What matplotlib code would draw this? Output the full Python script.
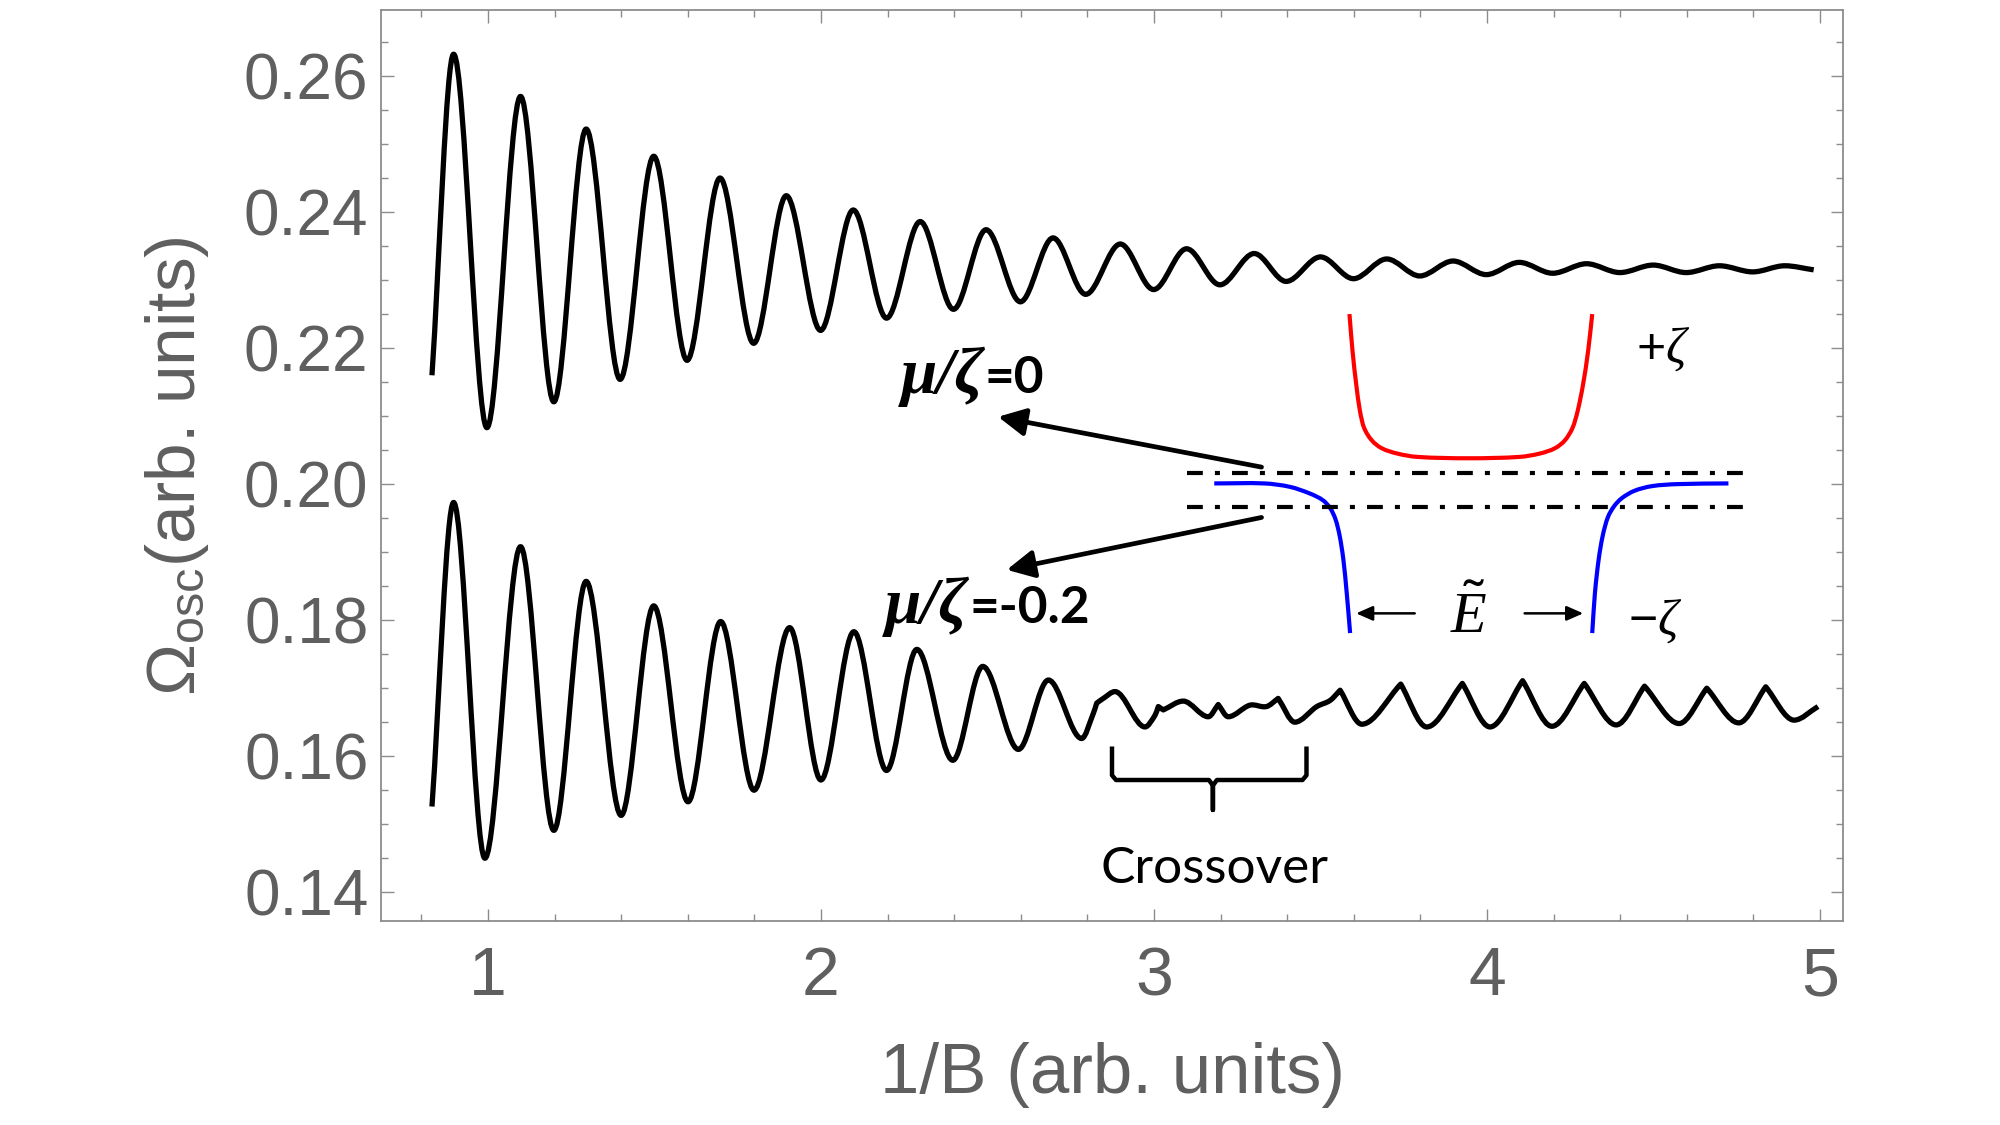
import matplotlib
matplotlib.use('Agg')
import matplotlib.pyplot as plt
from matplotlib.path import Path
from matplotlib.patches import PathPatch
from matplotlib.ticker import MultipleLocator, FormatStrFormatter

plt.rcParams['font.family'] = ['Liberation Sans', 'DejaVu Sans']
plt.rcParams['mathtext.fontset'] = 'custom'
plt.rcParams['mathtext.rm'] = 'Liberation Sans'
plt.rcParams['mathtext.it'] = 'Liberation Serif:italic'

# Data: extrema (x = 1/B, y = Omega_osc)
# kind: 's' smooth extremum, 'c' cusp/end, 'm' passing point
upper_x = [0.832, 0.897, 0.997, 1.098, 1.198, 1.295, 1.397, 1.498, 1.598, 1.697, 1.798,
           1.896, 1.999, 2.097, 2.197, 2.298, 2.398, 2.496, 2.599, 2.697, 2.795, 2.899,
           2.999, 3.098, 3.198, 3.301, 3.397, 3.500, 3.599, 3.699, 3.798, 3.898, 3.998,
           4.097, 4.197, 4.299, 4.399, 4.499, 4.598, 4.698, 4.798, 4.894, 4.981]
upper_y = [0.2160, 0.2632, 0.2083, 0.2570, 0.2121, 0.2522, 0.2154, 0.2482, 0.2182, 0.2450, 0.2207,
           0.2424, 0.2226, 0.2403, 0.2244, 0.2386, 0.2257, 0.2374, 0.2268, 0.2362, 0.2279, 0.2353,
           0.2286, 0.2346, 0.2293, 0.2339, 0.2298, 0.2334, 0.2302, 0.2331, 0.2306, 0.2328, 0.2308,
           0.2326, 0.2310, 0.2324, 0.2311, 0.2322, 0.2311, 0.2321, 0.2312, 0.2321, 0.2315]
upper_kind = ['c'] + ['s'] * 41 + ['c']

lower_x = [0.832, 0.897, 0.991, 1.098, 1.198, 1.295, 1.400, 1.498, 1.601, 1.699, 1.799,
           1.906, 2.000, 2.099, 2.197, 2.288, 2.396, 2.486, 2.593, 2.683, 2.783,
           2.818, 2.828, 2.848, 2.883, 2.973, 3.003, 3.013, 3.028, 3.088, 3.163, 3.193,
           3.223, 3.288, 3.338, 3.373, 3.423, 3.489, 3.529, 3.559, 3.624, 3.741, 3.819,
           3.926, 4.009, 4.107, 4.195, 4.292, 4.388, 4.473, 4.577, 4.660, 4.756, 4.837,
           4.922, 4.994]
lower_y = [0.1526, 0.1973, 0.1450, 0.1908, 0.1491, 0.1857, 0.1513, 0.1821, 0.1533, 0.1798, 0.1550,
           0.1789, 0.1565, 0.1783, 0.1579, 0.1757, 0.1594, 0.1732, 0.1610, 0.1712, 0.1626,
           0.1663, 0.1678, 0.1685, 0.1695, 0.1643, 0.1660, 0.1673, 0.1668, 0.1681, 0.1658, 0.1676,
           0.1658, 0.1675, 0.1673, 0.1685, 0.1650, 0.1673, 0.1682, 0.1697, 0.1647, 0.1706, 0.1643,
           0.1707, 0.1643, 0.1711, 0.1644, 0.1707, 0.1646, 0.1703, 0.1648, 0.1700, 0.1649, 0.1702,
           0.1653, 0.1673]
lower_kind = (['c'] + ['s'] * 20 + ['m', 'c', 'm', 's', 's', 'm', 'c', 'c', 's', 's', 'c',
              's', 'm', 'm', 'c', 's', 'm', 'm', 'c', 's', 'c', 's', 'c', 's', 'c', 's',
              'c', 's', 'c', 's', 'c', 's', 'c', 's', 'c'])

# schematic band curves
red_x = [3.587, 3.596, 3.607, 3.618, 3.630, 3.653, 3.683, 3.730, 3.791, 3.944,
         4.097, 4.159, 4.205, 4.235, 4.258, 4.273, 4.289, 4.304, 4.316]
red_y = [0.2250, 0.2197, 0.2148, 0.2109, 0.2084, 0.2065, 0.2053, 0.2045, 0.2040, 0.2038,
         0.2040, 0.2045, 0.2053, 0.2065, 0.2084, 0.2109, 0.2148, 0.2197, 0.2250]
blue_left_x = [3.181, 3.331, 3.408, 3.469, 3.508, 3.530, 3.546, 3.558, 3.569, 3.579, 3.589]
blue_left_y = [0.2001, 0.2001, 0.1996, 0.1986, 0.1976, 0.1964, 0.1947, 0.1923, 0.1888, 0.1839, 0.1781]
blue_right_x = [4.316, 4.324, 4.335, 4.347, 4.362, 4.381, 4.404, 4.442, 4.495, 4.572, 4.725]
blue_right_y = [0.1781, 0.1839, 0.1888, 0.1923, 0.1950, 0.1967, 0.1979, 0.1990, 0.1997, 0.2000, 0.2001]
mu_levels = [0.2017, 0.1967]
mu_span = [3.098, 4.772]

brace_x = [2.874, 2.874, 2.886, 3.165, 3.177, 3.177, 3.177, 3.189, 3.446, 3.458, 3.458]
brace_y = [0.1611, 0.1572, 0.1565, 0.1565, 0.1557, 0.1521, 0.1557, 0.1565, 0.1565, 0.1572, 0.1611]


def smooth_path(xs, ys, kinds):
    n = len(xs)

    def slope(i, side):
        k = kinds[i]
        if k == 's':
            return 0.0
        if k == 'm' and 0 < i < n - 1:
            return (ys[i + 1] - ys[i - 1]) / (xs[i + 1] - xs[i - 1])
        if side == 'out':
            return (ys[i + 1] - ys[i]) / (xs[i + 1] - xs[i])
        return (ys[i] - ys[i - 1]) / (xs[i] - xs[i - 1])

    verts = [(xs[0], ys[0])]
    codes = [Path.MOVETO]
    for i in range(n - 1):
        dx = xs[i + 1] - xs[i]
        verts.append((xs[i] + dx / 3, ys[i] + slope(i, 'out') * dx / 3))
        verts.append((xs[i + 1] - dx / 3, ys[i + 1] - slope(i + 1, 'in') * dx / 3))
        verts.append((xs[i + 1], ys[i + 1]))
        codes += [Path.CURVE4] * 3
    return Path(verts, codes)


fig = plt.figure(figsize=(20, 11.25), dpi=100)
ax = fig.add_axes([0.1905, 0.1809, 0.731, 0.8102])

ax.add_patch(PathPatch(smooth_path(upper_x, upper_y, upper_kind), fill=False,
                       ec='black', lw=3.8, joinstyle='round', capstyle='butt'))
ax.add_patch(PathPatch(smooth_path(lower_x, lower_y, lower_kind), fill=False,
                       ec='black', lw=3.8, joinstyle='round', capstyle='butt'))

# schematic
smooth_kind = lambda n: ['c'] + ['m'] * (n - 2) + ['c']
ax.add_patch(PathPatch(smooth_path(red_x, red_y, smooth_kind(len(red_x))), fill=False,
                       ec='#ff0000', lw=3.0))
ax.add_patch(PathPatch(smooth_path(blue_left_x, blue_left_y, smooth_kind(len(blue_left_x))),
                       fill=False, ec='#0000ff', lw=3.0))
ax.add_patch(PathPatch(smooth_path(blue_right_x, blue_right_y, smooth_kind(len(blue_right_x))),
                       fill=False, ec='#0000ff', lw=3.0))
for lev in mu_levels:
    ax.plot(mu_span, [lev, lev], color='black', lw=3.0,
            linestyle=(0, (3.8, 2.9, 1.2, 2.9)), dash_capstyle='butt')

# arrows pointing to the labels
arrow_kw = dict(arrowstyle='-|>,head_length=0.55,head_width=0.28', color='black',
                lw=3.4, mutation_scale=30, shrinkA=0, shrinkB=0)
ax.annotate('', xy=(2.532, 0.2099), xytext=(3.323, 0.2025), arrowprops=arrow_kw)
ax.annotate('', xy=(2.558, 0.1874), xytext=(3.323, 0.1951), arrowprops=arrow_kw)

lab_kw = dict(va='baseline', fontsize=47, fontweight='bold', fontstyle='italic',
              family='Liberation Serif')
eq_kw = dict(va='baseline', fontsize=37, fontweight='bold', family='Lato')
ax.text(2.489, 0.2134, 'μ/ζ', ha='right', **lab_kw)
ax.text(2.492, 0.2134, '=0', ha='left', **eq_kw)
ax.text(2.441, 0.1796, 'μ/ζ', ha='right', **lab_kw)
ax.text(2.447, 0.1796, '=-0.2', ha='left', **eq_kw)

# band-gap arrows
small_kw = dict(arrowstyle='-|>,head_length=0.5,head_width=0.22', color='black',
                lw=1.8, mutation_scale=20, shrinkA=0, shrinkB=0)
ax.annotate('', xy=(3.607, 0.1810), xytext=(3.783, 0.1810), arrowprops=small_kw)
ax.annotate('', xy=(4.289, 0.1810), xytext=(4.113, 0.1810), arrowprops=small_kw)
ax.text(3.944, 0.1781, r'$\tilde{E}$', ha='center', va='baseline', fontsize=42)
ax.text(4.529, 0.2199, r'$+\zeta$', ha='center', va='center', fontsize=36)
ax.text(4.506, 0.1799, r'$-\zeta$', ha='center', va='center', fontsize=36)

# crossover brace
ax.plot(brace_x, brace_y, color='black', lw=3.2, solid_joinstyle='round')
ax.text(3.183, 0.1413, 'Crossover', ha='center', va='baseline', fontsize=37, family='Lato')

# axes styling
ax.set_xlim(0.679, 5.069)
ax.set_ylim(0.1357, 0.2697)
ax.xaxis.set_major_locator(MultipleLocator(1))
ax.xaxis.set_minor_locator(MultipleLocator(0.2))
ax.yaxis.set_major_locator(MultipleLocator(0.02))
ax.yaxis.set_minor_locator(MultipleLocator(0.005))
ax.xaxis.set_major_formatter(FormatStrFormatter('%d'))
ax.yaxis.set_major_formatter(FormatStrFormatter('%.2f'))

spine_col = '#8c8c8c'
text_col = '#5f5f5f'
for s in ax.spines.values():
    s.set_color(spine_col)
    s.set_linewidth(1.3)
ax.tick_params(which='both', direction='in', top=True, right=True, color=spine_col,
               labelcolor=text_col, width=1.0)
ax.tick_params(which='major', length=9)
ax.tick_params(which='minor', length=5)
ax.tick_params(axis='y', which='major', labelsize=46, pad=9)
ax.tick_params(axis='x', which='major', labelsize=49, pad=17)

ax.set_xlabel('1/B (arb. units)', fontsize=51, color=text_col, labelpad=24)
ax.set_ylabel(r'$\Omega_{\mathrm{osc}}$(arb. units)', fontsize=50, color=text_col, labelpad=24)

fig.savefig('out.png', dpi=100)
